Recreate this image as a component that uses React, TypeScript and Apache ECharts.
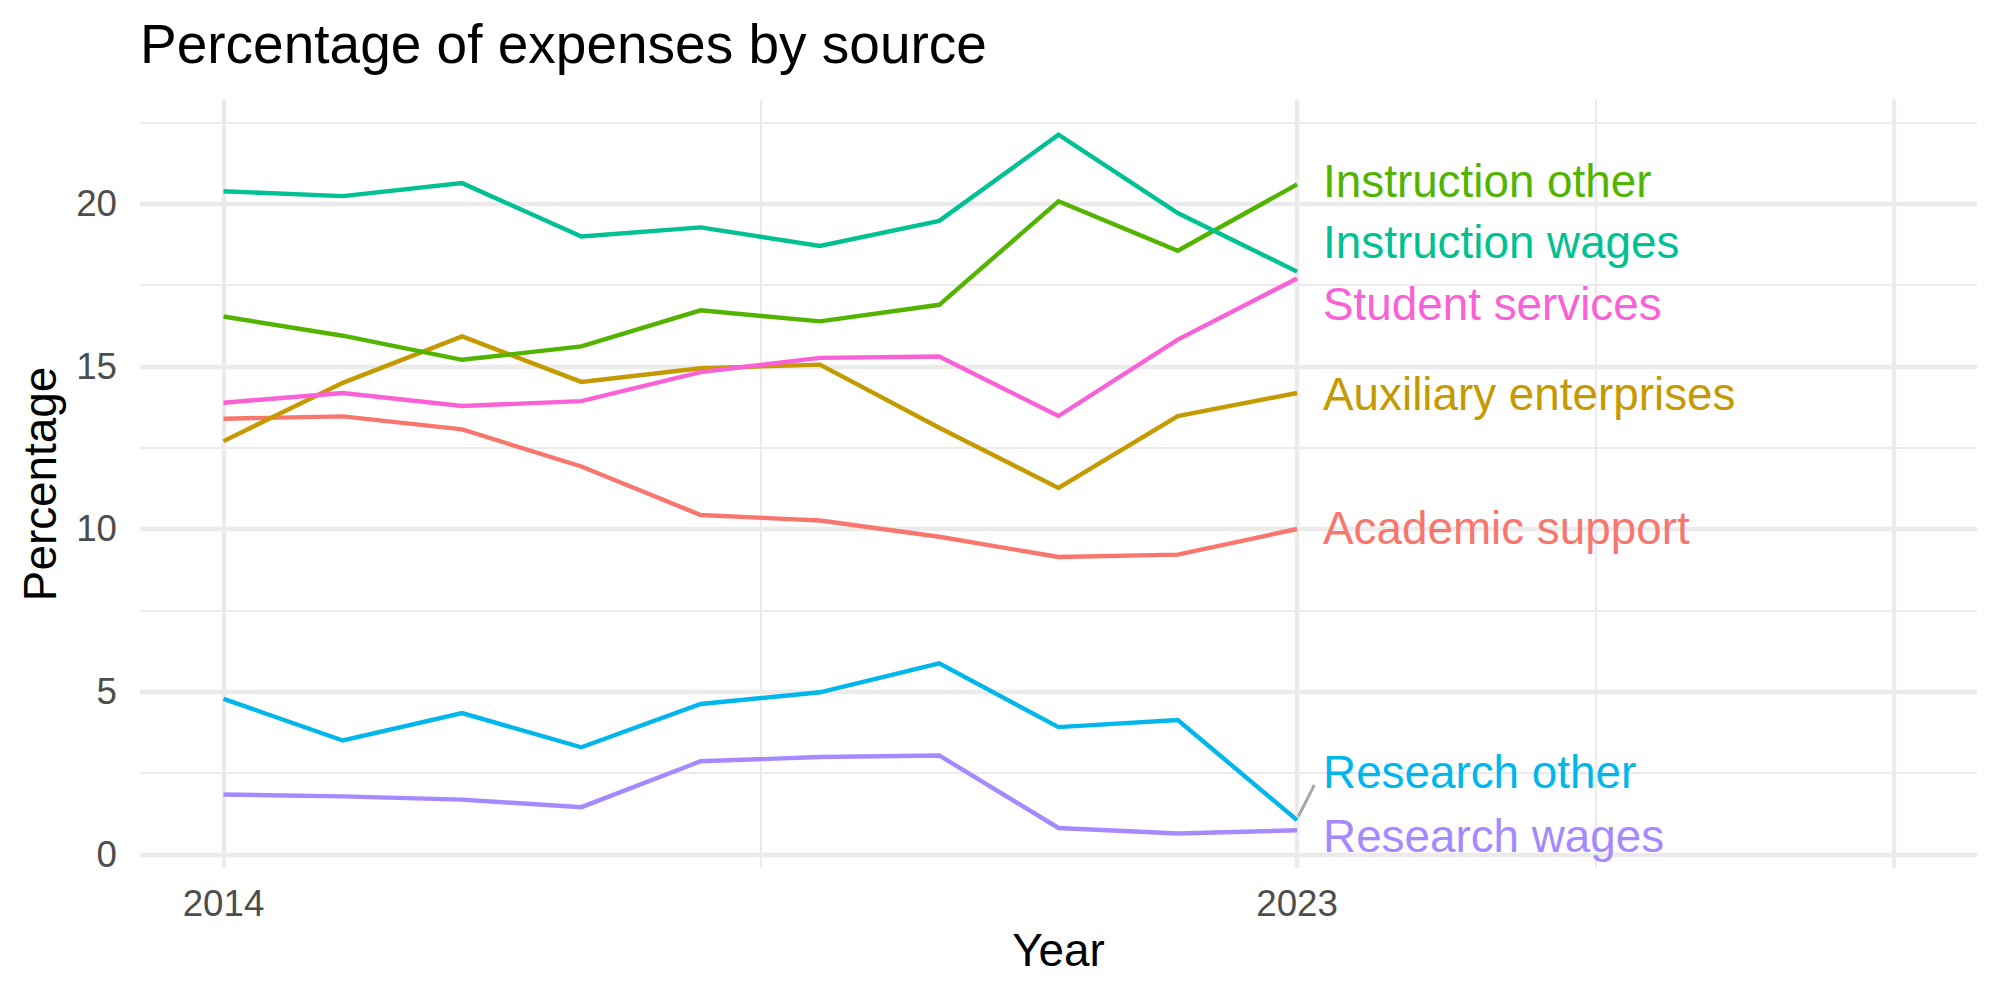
import React, { useEffect, useRef } from "react";
import * as echarts from "echarts";

// ---------- data ----------
const years = [2014, 2015, 2016, 2017, 2018, 2019, 2020, 2021, 2022, 2023];

const academicSupport = [13.39, 13.46, 13.06, 11.92, 10.43, 10.26, 9.76, 9.14, 9.21, 10.0];
const auxiliaryEnterprises = [12.7, 14.49, 15.92, 14.52, 14.94, 15.05, 13.11, 11.26, 13.47, 14.18];
const instructionOther = [16.53, 15.94, 15.2, 15.61, 16.72, 16.38, 16.89, 20.07, 18.55, 20.59];
const instructionWages = [20.38, 20.23, 20.63, 18.99, 19.27, 18.7, 19.47, 22.12, 19.71, 17.91];
const researchOther = [4.78, 3.5, 4.34, 3.29, 4.62, 4.98, 5.87, 3.91, 4.13, 1.05];
const researchWages = [1.84, 1.78, 1.68, 1.45, 2.86, 2.99, 3.04, 0.81, 0.64, 0.74];
const studentServices = [13.88, 14.18, 13.78, 13.93, 14.82, 15.26, 15.3, 13.47, 15.82, 17.7];

const seriesNames = [
  "Academic support",
  "Auxiliary enterprises",
  "Instruction other",
  "Instruction wages",
  "Research other",
  "Research wages",
  "Student services",
];
const seriesValues = [
  academicSupport,
  auxiliaryEnterprises,
  instructionOther,
  instructionWages,
  researchOther,
  researchWages,
  studentServices,
];
const seriesColors = ["#F8766D", "#C49A00", "#53B400", "#00C094", "#00B6EB", "#A58AFF", "#FB61D7"];

// repelled label positions (y value) at the last year, same order as seriesNames
const labelYears = [2023, 2023, 2023, 2023, 2023, 2023, 2023];
const labelValues = [10.0, 14.13, 20.69, 18.8, 2.5, 0.54, 16.89];

// connector segment for "Research other"
const segmentX = [2023.01, 2023.145];
const segmentY = [1.16, 2.13];

// axis ticks and grid
const xTickLabels = [2014, 2023];
const yTickLabels = [0, 5, 10, 15, 20];
const xMajorGrid = [2014, 2023, 2028];
const xMinorGrid = [2018.5, 2025.5];
const yMajorGrid = [0, 5, 10, 15, 20];
const yMinorGrid = [2.5, 7.5, 12.5, 17.5, 22.5];

const FONT = "'Liberation Sans', Arial, Helvetica, sans-serif";

export default function App() {
  const ref = useRef<HTMLDivElement>(null);

  useEffect(() => {
    if (!ref.current) return;
    const chart = echarts.init(ref.current, undefined, { renderer: "svg" });

    const gridColor = "#EBEBEB";
    const gridLines: any[] = [];
    yMinorGrid.forEach((v) => gridLines.push({ yAxis: v, lineStyle: { width: 2.2, color: gridColor, type: "solid" } }));
    xMinorGrid.forEach((v) => gridLines.push({ xAxis: v, lineStyle: { width: 2.2, color: gridColor, type: "solid" } }));
    yMajorGrid.forEach((v) => gridLines.push({ yAxis: v, lineStyle: { width: 4.4, color: gridColor, type: "solid" } }));
    xMajorGrid.forEach((v) => gridLines.push({ xAxis: v, lineStyle: { width: 4.4, color: gridColor, type: "solid" } }));

    const lineSeries = seriesNames.map((name, i) => ({
      type: "line",
      name,
      z: 3,
      data: years.map((y, j) => [y, seriesValues[i][j]]),
      symbol: "none",
      showSymbol: false,
      lineStyle: { color: seriesColors[i], width: 4.4, cap: "butt", join: "miter" },
      itemStyle: { color: seriesColors[i] },
      emphasis: { disabled: true },
      silent: true,
    }));

    const option: any = {
      animation: false,
      backgroundColor: "#FFFFFF",
      grid: { left: 140, right: 23, top: 99.5, bottom: 132 },
      xAxis: {
        type: "value",
        min: 2013.3,
        max: 2028.7,
        axisLine: { show: false },
        axisTick: { show: false },
        splitLine: { show: false },
        axisLabel: {
          customValues: xTickLabels,
          color: "#4D4D4D",
          fontSize: 36.7,
          fontFamily: FONT,
          margin: 17,
          formatter: (v: number) => String(v),
        },
      },
      yAxis: {
        type: "value",
        min: -0.42,
        max: 23.2,
        axisLine: { show: false },
        axisTick: { show: false },
        splitLine: { show: false },
        axisLabel: {
          customValues: yTickLabels,
          color: "#4D4D4D",
          fontSize: 36.7,
          fontFamily: FONT,
          margin: 23,
          formatter: (v: number) => String(v),
        },
      },
      graphic: [
        {
          type: "text",
          x: 140,
          y: 44,
          style: {
            text: "Percentage of expenses by source",
            fill: "#000000",
            font: `55px ${FONT}`,
            align: "left",
            verticalAlign: "middle",
            textAlign: "left",
            textVerticalAlign: "middle",
          },
        },
        {
          type: "text",
          x: 1058.5,
          y: 950,
          style: {
            text: "Year",
            fill: "#000000",
            font: `45.8px ${FONT}`,
            align: "center",
            verticalAlign: "middle",
            textAlign: "center",
            textVerticalAlign: "middle",
          },
        },
        {
          type: "text",
          x: 40,
          y: 484,
          rotation: Math.PI / 2,
          style: {
            text: "Percentage",
            fill: "#000000",
            font: `45.8px ${FONT}`,
            align: "center",
            verticalAlign: "middle",
            textAlign: "center",
            textVerticalAlign: "middle",
          },
        },
      ],
      series: [
        {
          type: "line",
          name: "grid",
          z: 1,
          data: [],
          symbol: "none",
          silent: true,
          markLine: {
            z: 1,
            silent: true,
            symbol: ["none", "none"],
            label: { show: false },
            emphasis: { disabled: true },
            data: gridLines,
          },
        },
        ...lineSeries,
        {
          type: "line",
          name: "segment",
          z: 3,
          data: segmentX.map((x, i) => [x, segmentY[i]]),
          symbol: "none",
          lineStyle: { color: "#A6A6A6", width: 3, cap: "butt" },
          silent: true,
        },
        {
          type: "scatter",
          name: "labels",
          z: 10,
          symbolSize: 0,
          itemStyle: { color: "transparent" },
          silent: true,
          data: seriesNames.map((name, i) => ({
            name,
            value: [labelYears[i], labelValues[i]],
            label: {
              show: true,
              position: "right",
              distance: 26,
              formatter: "{b}",
              color: seriesColors[i],
              opacity: 1,
              fontSize: 45.8,
              fontFamily: FONT,
            },
          })),
        },
      ],
    };

    chart.setOption(option);
    return () => chart.dispose();
  }, []);

  return (
    <div
      ref={ref}
      style={{ position: "fixed", left: 0, top: 0, width: 2000, height: 1000, background: "#fff" }}
    />
  );
}
